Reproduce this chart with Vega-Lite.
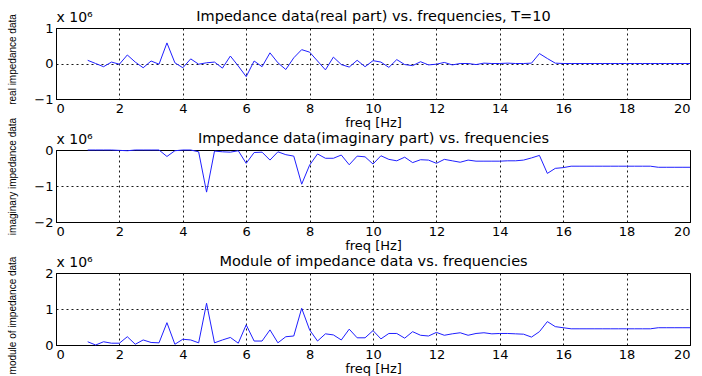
{
  "$schema": "https://vega.github.io/schema/vega-lite/v6.json",
  "padding": {"left": 6, "top": 7, "right": 2, "bottom": 2},
  "background": "white",
  "datasets": {
    "imp": [
      {"f": 1.00, "re": 0.09, "im": 0.00, "mod": 0.09},
      {"f": 1.25, "re": 0.00, "im": 0.00, "mod": 0.00},
      {"f": 1.50, "re": -0.09, "im": 0.00, "mod": 0.09},
      {"f": 1.75, "re": 0.04, "im": 0.00, "mod": 0.05},
      {"f": 2.00, "re": -0.02, "im": -0.01, "mod": 0.05},
      {"f": 2.25, "re": 0.24, "im": -0.02, "mod": 0.23},
      {"f": 2.50, "re": 0.04, "im": 0.00, "mod": 0.02},
      {"f": 2.75, "re": -0.12, "im": 0.00, "mod": 0.14},
      {"f": 3.00, "re": 0.07, "im": 0.00, "mod": 0.07},
      {"f": 3.25, "re": -0.02, "im": 0.00, "mod": 0.06},
      {"f": 3.50, "re": 0.58, "im": -0.18, "mod": 0.62},
      {"f": 3.75, "re": 0.02, "im": -0.02, "mod": 0.02},
      {"f": 4.00, "re": -0.12, "im": 0.00, "mod": 0.16},
      {"f": 4.25, "re": 0.13, "im": 0.00, "mod": 0.14},
      {"f": 4.50, "re": -0.02, "im": -0.05, "mod": 0.06},
      {"f": 4.75, "re": 0.02, "im": -1.17, "mod": 1.16},
      {"f": 5.00, "re": 0.04, "im": -0.03, "mod": 0.06},
      {"f": 5.25, "re": -0.13, "im": -0.05, "mod": 0.14},
      {"f": 5.50, "re": 0.21, "im": -0.06, "mod": 0.21},
      {"f": 5.75, "re": -0.07, "im": -0.02, "mod": 0.05},
      {"f": 6.00, "re": -0.37, "im": -0.37, "mod": 0.56},
      {"f": 6.25, "re": 0.07, "im": -0.07, "mod": 0.11},
      {"f": 6.50, "re": -0.09, "im": -0.06, "mod": 0.11},
      {"f": 6.75, "re": 0.30, "im": -0.28, "mod": 0.42},
      {"f": 7.00, "re": 0.02, "im": -0.05, "mod": 0.06},
      {"f": 7.25, "re": -0.17, "im": -0.13, "mod": 0.23},
      {"f": 7.50, "re": 0.16, "im": -0.17, "mod": 0.25},
      {"f": 7.75, "re": 0.39, "im": -0.95, "mod": 1.02},
      {"f": 8.00, "re": 0.32, "im": -0.42, "mod": 0.42},
      {"f": 8.25, "re": 0.07, "im": -0.11, "mod": 0.11},
      {"f": 8.50, "re": -0.18, "im": -0.23, "mod": 0.31},
      {"f": 8.75, "re": 0.18, "im": -0.23, "mod": 0.28},
      {"f": 9.00, "re": -0.03, "im": -0.14, "mod": 0.14},
      {"f": 9.25, "re": -0.10, "im": -0.41, "mod": 0.44},
      {"f": 9.50, "re": 0.09, "im": -0.17, "mod": 0.20},
      {"f": 9.75, "re": -0.09, "im": -0.19, "mod": 0.20},
      {"f": 10.00, "re": 0.08, "im": -0.39, "mod": 0.40},
      {"f": 10.25, "re": 0.04, "im": -0.16, "mod": 0.17},
      {"f": 10.50, "re": -0.11, "im": -0.26, "mod": 0.32},
      {"f": 10.75, "re": 0.11, "im": -0.30, "mod": 0.32},
      {"f": 11.00, "re": -0.03, "im": -0.20, "mod": 0.19},
      {"f": 11.25, "re": -0.06, "im": -0.35, "mod": 0.37},
      {"f": 11.50, "re": 0.05, "im": -0.27, "mod": 0.27},
      {"f": 11.75, "re": -0.04, "im": -0.28, "mod": 0.25},
      {"f": 12.00, "re": -0.02, "im": -0.37, "mod": 0.35},
      {"f": 12.25, "re": 0.03, "im": -0.26, "mod": 0.27},
      {"f": 12.50, "re": -0.04, "im": -0.30, "mod": 0.31},
      {"f": 12.75, "re": 0.00, "im": -0.34, "mod": 0.34},
      {"f": 13.00, "re": 0.00, "im": -0.28, "mod": 0.27},
      {"f": 13.25, "re": -0.03, "im": -0.31, "mod": 0.32},
      {"f": 13.50, "re": 0.01, "im": -0.31, "mod": 0.34},
      {"f": 13.75, "re": 0.00, "im": -0.31, "mod": 0.31},
      {"f": 14.00, "re": 0.00, "im": -0.31, "mod": 0.32},
      {"f": 14.25, "re": 0.01, "im": -0.30, "mod": 0.32},
      {"f": 14.50, "re": 0.00, "im": -0.30, "mod": 0.31},
      {"f": 14.75, "re": 0.00, "im": -0.28, "mod": 0.30},
      {"f": 15.00, "re": 0.01, "im": -0.22, "mod": 0.22},
      {"f": 15.25, "re": 0.28, "im": -0.15, "mod": 0.37},
      {"f": 15.50, "re": 0.14, "im": -0.65, "mod": 0.65},
      {"f": 15.75, "re": 0.01, "im": -0.51, "mod": 0.51},
      {"f": 16.00, "re": 0.00, "im": -0.49, "mod": 0.48},
      {"f": 16.25, "re": 0.00, "im": -0.45, "mod": 0.45},
      {"f": 16.50, "re": 0.00, "im": -0.45, "mod": 0.45},
      {"f": 16.75, "re": 0.00, "im": -0.45, "mod": 0.45},
      {"f": 17.00, "re": 0.00, "im": -0.45, "mod": 0.45},
      {"f": 17.25, "re": 0.00, "im": -0.45, "mod": 0.45},
      {"f": 17.50, "re": 0.00, "im": -0.45, "mod": 0.45},
      {"f": 17.75, "re": 0.00, "im": -0.45, "mod": 0.45},
      {"f": 18.00, "re": 0.00, "im": -0.45, "mod": 0.45},
      {"f": 18.25, "re": 0.00, "im": -0.45, "mod": 0.45},
      {"f": 18.50, "re": 0.00, "im": -0.45, "mod": 0.45},
      {"f": 18.75, "re": 0.00, "im": -0.45, "mod": 0.45},
      {"f": 19.00, "re": 0.00, "im": -0.48, "mod": 0.48},
      {"f": 19.25, "re": 0.00, "im": -0.48, "mod": 0.48},
      {"f": 19.50, "re": 0.00, "im": -0.48, "mod": 0.48},
      {"f": 19.75, "re": 0.00, "im": -0.48, "mod": 0.48},
      {"f": 20.00, "re": 0.00, "im": -0.48, "mod": 0.48}
    ]
  },
  "data": {"name": "imp"},
  "spacing": 51,
  "bounds": "flush",
  "config": {
    "font": "DejaVu Sans",
    "view": {"stroke": "#000000", "strokeWidth": 1},
    "axis": {
      "labelFont": "DejaVu Sans",
      "titleFont": "DejaVu Sans",
      "labelColor": "#000000",
      "titleColor": "#000000",
      "labelFontSize": 13,
      "titleFontSize": 13,
      "titleFontWeight": "normal",
      "domainColor": "#000000",
      "ticks": false,
      "gridColor": "#000000",
      "gridDash": [2, 3],
      "gridOpacity": 0.9,
      "gridWidth": 1,
      "labelPadding": 3
    }
  },
  "vconcat": [
    {
      "width": 634,
      "height": 71,
      "resolve": {"axis": {"x": "independent", "y": "independent"}, "scale": {"x": "independent", "y": "independent"}},
      "layer": [
        {
          "mark": {"type": "line", "color": "#1f1fff", "strokeWidth": 1},
          "encoding": {
            "x": {"field": "f", "type": "quantitative", "scale": {"domain": [0, 20], "nice": false},
                  "axis": {"values": [0, 2, 4, 6, 8, 10, 12, 14, 16, 18, 20], "title": "freq [Hz]", "titlePadding": 1, "grid": true}},
            "y": {"field": "re", "type": "quantitative", "scale": {"domain": [-1, 1], "nice": false, "zero": false},
                  "axis": {"values": [-1, 0, 1], "labelExpr": "replace(datum.label, '.0', '')", "labelOverlap": false, "title": "real impedance data", "titleFont": "Liberation Sans", "titleFontSize": 10, "titleAngle": 270, "titleBaseline": "bottom", "titleAlign": "center", "titleX": -39, "titleY": 31, "grid": true}}
          }
        },
        {
          "mark": {"type": "line", "opacity": 0},
          "encoding": {
            "x": {"field": "f", "type": "quantitative", "scale": {"domain": [0, 20], "nice": false},
                  "axis": {"orient": "top", "values": [0], "labelExpr": "'x 10⁶'", "labelAlign": "left", "labelBaseline": "bottom", "labelPadding": 4, "labelFontSize": 14, "domain": false, "grid": false,
                           "title": "Impedance data(real part) vs. frequencies, T=10", "titleFontSize": 14.5, "titleAnchor": "middle", "titleBaseline": "bottom", "titleY": -5}},
            "y": {"field": "re", "type": "quantitative", "scale": {"domain": [-1, 1], "nice": false, "zero": false}, "axis": null}
          }
        }
      ]
    },
    {
      "width": 634,
      "height": 72,
      "resolve": {"axis": {"x": "independent", "y": "independent"}, "scale": {"x": "independent", "y": "independent"}},
      "layer": [
        {
          "mark": {"type": "line", "color": "#1f1fff", "strokeWidth": 1},
          "encoding": {
            "x": {"field": "f", "type": "quantitative", "scale": {"domain": [0, 20], "nice": false},
                  "axis": {"values": [0, 2, 4, 6, 8, 10, 12, 14, 16, 18, 20], "title": "freq [Hz]", "titlePadding": 1, "grid": true}},
            "y": {"field": "im", "type": "quantitative", "scale": {"domain": [-2, 0], "nice": false, "zero": false},
                  "axis": {"values": [-2, -1, 0], "labelExpr": "replace(datum.label, '.0', '')", "labelOverlap": false, "title": "imaginary impedance data", "titleFont": "Liberation Sans", "titleFontSize": 10, "titleAngle": 270, "titleBaseline": "bottom", "titleAlign": "center", "titleX": -39, "titleY": 26, "grid": true}}
          }
        },
        {
          "mark": {"type": "line", "opacity": 0},
          "encoding": {
            "x": {"field": "f", "type": "quantitative", "scale": {"domain": [0, 20], "nice": false},
                  "axis": {"orient": "top", "values": [0], "labelExpr": "'x 10⁶'", "labelAlign": "left", "labelBaseline": "bottom", "labelPadding": 4, "labelFontSize": 14, "domain": false, "grid": false,
                           "title": "Impedance data(imaginary part) vs. frequencies", "titleFontSize": 14.5, "titleAnchor": "middle", "titleBaseline": "bottom", "titleY": -5}},
            "y": {"field": "im", "type": "quantitative", "scale": {"domain": [-2, 0], "nice": false, "zero": false}, "axis": null}
          }
        }
      ]
    },
    {
      "width": 634,
      "height": 72,
      "resolve": {"axis": {"x": "independent", "y": "independent"}, "scale": {"x": "independent", "y": "independent"}},
      "layer": [
        {
          "mark": {"type": "line", "color": "#1f1fff", "strokeWidth": 1},
          "encoding": {
            "x": {"field": "f", "type": "quantitative", "scale": {"domain": [0, 20], "nice": false},
                  "axis": {"values": [0, 2, 4, 6, 8, 10, 12, 14, 16, 18, 20], "title": "freq [Hz]", "titlePadding": 1, "grid": true}},
            "y": {"field": "mod", "type": "quantitative", "scale": {"domain": [0, 2], "nice": false},
                  "axis": {"values": [0, 1, 2], "labelExpr": "replace(datum.label, '.0', '')", "labelOverlap": false, "title": "module of impedance data", "titleFont": "Liberation Sans", "titleFontSize": 10, "titleAngle": 270, "titleBaseline": "bottom", "titleAlign": "center", "titleX": -39, "titleY": 42, "grid": true}}
          }
        },
        {
          "mark": {"type": "line", "opacity": 0},
          "encoding": {
            "x": {"field": "f", "type": "quantitative", "scale": {"domain": [0, 20], "nice": false},
                  "axis": {"orient": "top", "values": [0], "labelExpr": "'x 10⁶'", "labelAlign": "left", "labelBaseline": "bottom", "labelPadding": 4, "labelFontSize": 14, "domain": false, "grid": false,
                           "title": "Module of impedance data vs. frequencies", "titleFontSize": 14.5, "titleAnchor": "middle", "titleBaseline": "bottom", "titleY": -5}},
            "y": {"field": "mod", "type": "quantitative", "scale": {"domain": [0, 2], "nice": false}, "axis": null}
          }
        }
      ]
    }
  ]
}
